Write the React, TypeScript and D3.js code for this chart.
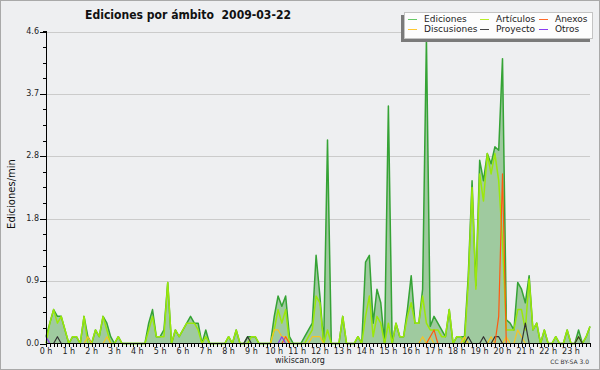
import React from 'react';
import * as d3 from 'd3';

// one value per 10 minutes, edits per minute
const hourLabels = [
  '0 h', '1 h', '2 h', '3 h', '4 h', '5 h', '6 h', '7 h', '8 h', '9 h', '10 h', '11 h',
  '12 h', '13 h', '14 h', '15 h', '16 h', '17 h', '18 h', '19 h', '20 h', '21 h', '22 h', '23 h',
];
const yTickValues = [0, 0.92, 1.84, 2.76, 3.68, 4.6];
const yTickLabels = ['0.0', '0.9', '1.8', '2.8', '3.7', '4.6'];

const ediciones = [
  0.1, 0.3, 0.5, 0.4, 0.4, 0.2, 0, 0.1, 0.1, 0,
  0.4, 0.1, 0, 0.2, 0.1, 0.4, 0.3, 0.1, 0, 0.1,
  0, 0, 0, 0, 0, 0, 0, 0.3, 0.5, 0.1,
  0.1, 0.2, 0.9, 0, 0.2, 0.1, 0.2, 0.3, 0.4, 0.3,
  0.3, 0, 0.2, 0, 0, 0, 0, 0, 0.1, 0,
  0.2, 0, 0, 0.1, 0.1, 0.1, 0, 0, 0, 0,
  0.4, 0.7, 0.55, 0.7, 0.1, 0, 0, 0, 0.1, 0.2,
  0.3, 1.3, 0.7, 0, 3.0, 0, 0, 0, 0.4, 0,
  0, 0, 0.1, 0, 1.2, 1.3, 0.3, 0.8, 0.6, 0,
  3.5, 0, 0.3, 0.1, 0.1, 0.5, 1.0, 0.3, 0.3, 0.8,
  4.5, 0.25, 0.4, 0.3, 0.2, 0.1, 0.5, 0, 0.1, 0.1,
  0.1, 1.0, 2.4, 0.85, 2.7, 2.4, 2.8, 2.65, 2.9, 2.85,
  4.2, 0.35, 0.3, 0.2, 0.9, 0.8, 0.6, 1.0, 0.2, 0.3,
  0, 0.2, 0, 0, 0.1, 0, 0, 0.2, 0, 0,
  0.2, 0, 0.1, 0.25,
];

const articulos = [
  0, 0.3, 0.5, 0.3, 0.4, 0.2, 0, 0.1, 0.1, 0,
  0.4, 0, 0, 0.2, 0.1, 0.4, 0.2, 0, 0, 0.1,
  0, 0, 0, 0, 0, 0, 0, 0.2, 0.4, 0.1,
  0.1, 0.1, 0.9, 0, 0.2, 0.1, 0.2, 0.3, 0.3, 0.3,
  0.2, 0, 0.1, 0, 0, 0, 0, 0, 0.1, 0,
  0.2, 0, 0, 0, 0.1, 0.1, 0, 0, 0, 0,
  0.2, 0.5, 0.3, 0.5, 0, 0, 0, 0, 0, 0.1,
  0.2, 0.7, 0.6, 0, 0.2, 0, 0, 0, 0.4, 0,
  0, 0, 0.1, 0, 0.4, 0.7, 0.1, 0.4, 0.3, 0,
  0.3, 0, 0.3, 0.1, 0.1, 0.4, 0.6, 0.3, 0.3, 0.7,
  0.3, 0.2, 0.2, 0.2, 0.1, 0.1, 0.5, 0, 0.1, 0.1,
  0, 0.9, 2.3, 0.8, 2.5, 2.1, 2.8, 2.5, 2.8, 2.4,
  1.5, 0.2, 0.2, 0.2, 0.5, 0.5, 0.2, 0.95, 0.2, 0.3,
  0, 0.2, 0, 0, 0.1, 0, 0, 0.2, 0, 0,
  0.1, 0, 0.1, 0.25,
];

const discusiones = [
  0, 0, 0, 0, 0, 0, 0, 0, 0, 0,
  0, 0.1, 0, 0, 0, 0, 0.1, 0, 0, 0,
  0, 0, 0, 0, 0, 0, 0, 0, 0, 0,
  0, 0, 0, 0, 0, 0, 0, 0, 0, 0,
  0, 0, 0, 0, 0, 0, 0, 0, 0, 0,
  0, 0, 0, 0, 0, 0, 0, 0, 0, 0,
  0.2, 0.2, 0.1, 0.1, 0, 0, 0, 0, 0, 0,
  0.1, 0.1, 0.1, 0, 0, 0, 0, 0, 0, 0,
  0, 0, 0, 0, 0, 0, 0, 0, 0, 0,
  0, 0, 0, 0, 0, 0, 0, 0, 0, 0.1,
  0, 0.1, 0, 0, 0, 0, 0, 0, 0, 0,
  0.1, 0, 0, 0, 0, 0, 0, 0.1, 0, 0,
  0, 0.1, 0, 0, 0.2, 0.1, 0, 0, 0, 0,
  0, 0, 0, 0, 0, 0, 0, 0, 0, 0,
  0, 0, 0, 0,
];

const proyecto = [
  0, 0, 0, 0.1, 0, 0, 0, 0, 0, 0,
  0, 0, 0, 0, 0, 0, 0, 0, 0, 0,
  0, 0, 0, 0, 0, 0, 0, 0, 0, 0,
  0, 0, 0, 0, 0, 0, 0, 0, 0, 0,
  0, 0, 0, 0, 0, 0, 0, 0, 0, 0,
  0, 0, 0, 0.1, 0, 0, 0, 0, 0, 0,
  0, 0, 0, 0, 0, 0, 0, 0, 0, 0,
  0, 0, 0, 0, 0, 0, 0, 0, 0, 0,
  0, 0, 0, 0, 0, 0, 0, 0, 0, 0,
  0, 0, 0, 0, 0, 0, 0, 0, 0, 0,
  0, 0, 0, 0, 0, 0, 0, 0, 0, 0,
  0, 0.1, 0, 0, 0, 0.1, 0, 0, 0.1, 0.1,
  0, 0, 0, 0, 0, 0, 0.3, 0, 0, 0,
  0, 0, 0, 0, 0, 0, 0, 0, 0, 0,
  0.1, 0, 0, 0,
];

const anexos = [
  0, 0, 0, 0, 0, 0, 0, 0, 0, 0,
  0, 0, 0, 0, 0, 0, 0, 0, 0, 0,
  0, 0, 0, 0, 0, 0, 0, 0, 0, 0,
  0, 0, 0, 0, 0, 0, 0, 0, 0, 0,
  0, 0, 0, 0, 0, 0, 0, 0, 0, 0,
  0, 0, 0, 0, 0, 0, 0, 0, 0, 0,
  0, 0, 0, 0.1, 0, 0, 0, 0, 0, 0,
  0, 0, 0, 0, 0, 0, 0, 0, 0, 0,
  0, 0, 0, 0, 0, 0, 0, 0, 0, 0,
  0, 0, 0, 0, 0, 0, 0, 0, 0, 0,
  0, 0.1, 0.2, 0, 0, 0, 0, 0, 0, 0,
  0, 0, 0, 0, 0, 0, 0, 0, 0, 0.4,
  2.5, 0, 0, 0, 0, 0, 0, 0, 0, 0,
  0, 0, 0, 0, 0, 0, 0, 0, 0, 0,
  0, 0, 0, 0,
];

const otros = [
  0.1, 0, 0, 0, 0, 0, 0, 0, 0, 0,
  0, 0, 0, 0, 0, 0, 0, 0, 0, 0,
  0, 0, 0, 0, 0, 0, 0, 0, 0, 0,
  0, 0, 0, 0, 0, 0, 0, 0, 0, 0,
  0, 0, 0, 0, 0, 0, 0, 0, 0, 0,
  0, 0, 0, 0, 0, 0, 0, 0, 0, 0,
  0, 0, 0.1, 0, 0, 0, 0, 0, 0, 0,
  0, 0, 0, 0, 0, 0, 0, 0, 0, 0,
  0, 0, 0, 0, 0, 0, 0, 0, 0, 0,
  0, 0, 0, 0, 0, 0, 0, 0, 0, 0,
  0, 0, 0, 0, 0, 0, 0, 0, 0, 0,
  0, 0, 0, 0, 0, 0, 0, 0, 0, 0,
  0, 0, 0, 0, 0, 0, 0, 0, 0, 0,
  0, 0, 0, 0, 0, 0, 0, 0, 0, 0,
  0, 0, 0, 0,
];

const series = [
  { name: 'Ediciones', values: ediciones, color: '#35a335', legend: '#66c966' },
  { name: 'Artículos', values: articulos, color: '#9be80a', legend: '#b8ee2a' },
  { name: 'Anexos', values: anexos, color: '#ff5a10', legend: '#ff6a2a' },
  { name: 'Discusiones', values: discusiones, color: '#f5c424', legend: '#ffc830' },
  { name: 'Proyecto', values: proyecto, color: '#333333', legend: '#444444' },
  { name: 'Otros', values: otros, color: '#8a3cf0', legend: '#8a3cf0' },
];
// drawing order, bottom to top
const drawOrder = ['Ediciones', 'Artículos', 'Discusiones', 'Proyecto', 'Anexos', 'Otros'];

const W = 600;
const H = 370;
const font = "'DejaVu Sans', Verdana, sans-serif";

export default function App() {
  const x = d3.scaleLinear().domain([0, ediciones.length - 1]).range([46, 590]);
  const y = d3.scaleLinear().domain([0, 4.6]).range([343.5, 31.5]);

  const line = d3.line<number>().x((_, i) => x(i)).y(d => y(d));
  const area = d3.area<number>().x((_, i) => x(i)).y0(y(0)).y1(d => y(d));

  const minorY = d3.range(0, 4.6 + 1e-6, 0.23);
  const slots = d3.range(ediciones.length);
  const x0 = x(0);
  const x1 = x(ediciones.length - 1);

  // legend layout: 3 columns, 2 rows
  const legendCols = [407, 479, 538];
  const legendRows = [19, 29];

  return (
    <svg width={W} height={H} style={{ position: 'absolute', left: 0, top: 0, fontFamily: font }}>
      <rect x={0.5} y={0.5} width={W - 1} height={H - 1} fill="#eeeff1" stroke="#a9a9a9" />

      {/* grid */}
      {yTickValues.slice(1).map(v => (
        <line key={v} x1={x0} x2={x1} y1={Math.round(y(v)) + 0.5} y2={Math.round(y(v)) + 0.5}
          stroke="#cbcbcb" strokeWidth={1} />
      ))}

      {/* Ediciones area */}
      <path d={area(ediciones) || ''} fill="#9fca9f" />

      {drawOrder.map(n => {
        const s = series.find(d => d.name === n)!;
        return (
          <path key={n} d={line(s.values) || ''} fill="none" stroke={s.color}
            strokeWidth={n === 'Ediciones' || n === 'Artículos' ? 1.5 : 1.2} strokeLinejoin="round" />
        );
      })}

      {/* y axis */}
      <g shapeRendering="crispEdges">
        <line x1={46.5} x2={46.5} y1={31} y2={344} stroke="#000" />
        {minorY.map(v => (
          <line key={v} x1={43} x2={46} y1={Math.round(y(v)) + 0.5} y2={Math.round(y(v)) + 0.5} stroke="#000" />
        ))}
        {yTickValues.map(v => (
          <line key={v} x1={40} x2={46} y1={Math.round(y(v)) + 0.5} y2={Math.round(y(v)) + 0.5} stroke="#000" />
        ))}
      </g>
      {yTickValues.map((v, i) => (
        <text key={v} x={39} y={y(v) + 2} textAnchor="end" fontSize={8} fill="#222">{yTickLabels[i]}</text>
      ))}

      {/* x axis */}
      <g shapeRendering="crispEdges">
        <line x1={46} x2={x1 + 1} y1={343.5} y2={343.5} stroke="#000" />
        {slots.map(i => (
          <line key={i} x1={Math.round(x(i)) + 0.5} x2={Math.round(x(i)) + 0.5} y1={343} y2={347} stroke="#000" />
        ))}
      </g>
      {hourLabels.map((h, i) => (
        <text key={h} x={x(i * 6)} y={354} textAnchor="middle" fontSize={8} fill="#222">{h}</text>
      ))}

      {/* titles */}
      <text x={188} y={19} textAnchor="middle" fontSize={13} fontWeight="bold" fill="#111"
        style={{ whiteSpace: 'pre' }} textLength={206} lengthAdjust="spacingAndGlyphs">
        {'Ediciones por ámbito  2009-03-22'}
      </text>
      <text transform="translate(15,194) rotate(-90)" textAnchor="middle" fontSize={10} fill="#111">Ediciones/min</text>
      <text x={300} y={363} textAnchor="middle" fontSize={8} fill="#222">wikiscan.org</text>
      <text x={589} y={364} textAnchor="end" fontSize={6} fill="#333">CC BY-SA 3.0</text>

      {/* legend */}
      <rect x={401} y={15} width={189} height={27} fill="#7a7a7a" />
      <rect x={404.5} y={12.5} width={188} height={26} fill="#fdfdfd" stroke="#c4c4c4" />
      {series.map((s, i) => {
        const cx = legendCols[i % 3];
        const cy = legendRows[Math.floor(i / 3)];
        return (
          <g key={s.name}>
            <line x1={cx + 1} x2={cx + 10} y1={cy + 0.5} y2={cy + 0.5} stroke={s.legend} strokeWidth={1}
              shapeRendering="crispEdges" />
            <text x={cx + 17} y={cy + 3} fontSize={9} fill="#222">{s.name}</text>
          </g>
        );
      })}
    </svg>
  );
}
